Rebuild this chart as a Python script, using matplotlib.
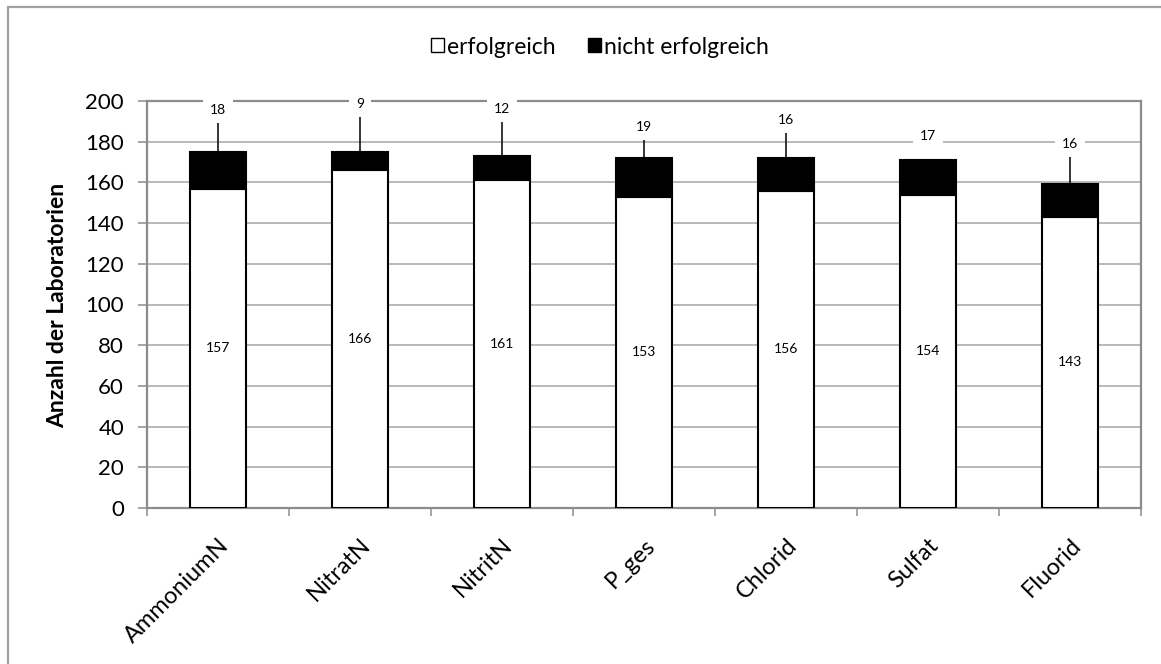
import matplotlib
matplotlib.use("Agg")
import matplotlib.pyplot as plt
from matplotlib.patches import Patch, Rectangle
import numpy as np

# ---- data ----
categories = ["AmmoniumN", "NitratN", "NitritN", "P_ges", "Chlorid", "Sulfat", "Fluorid"]
erfolgreich = [157, 166, 161, 153, 156, 154, 143]
nicht_erfolgreich = [18, 9, 12, 19, 16, 17, 16]
label_offset = [20.6, 23.5, 23.1, 15.4, 18.7, 12.0, 19.9]   # label height above stack top
yticks = [0, 20, 40, 60, 80, 100, 120, 140, 160, 180, 200]
legend_labels = ["erfolgreich", "nicht erfolgreich"]
y_label = "Anzahl der Laboratorien"

plt.rcParams['font.family'] = ['Lato', 'DejaVu Sans']

W, H = 1161, 664
fig = plt.figure(figsize=(W / 100, H / 100), dpi=100)

def fx(px):
    return px / W

def fy(py):
    return 1 - py / H

GRAY = '#8C8C8C'
GRID = '#A6A6A6'

# outer chart frame
fig.patches.append(Rectangle((fx(8), -0.1), 1.2, fy(7) + 0.1, transform=fig.transFigure,
                             fill=False, edgecolor='#A0A0A0', lw=1.6))

ax = fig.add_axes([fx(147), fy(508), fx(1141) - fx(147), fy(101) - fy(508)])
x = np.arange(len(categories))
ax.bar(x, erfolgreich, width=0.4, color='white', edgecolor='black', lw=1.5, zorder=3)
ax.bar(x, nicht_erfolgreich, bottom=erfolgreich, width=0.4, color='black',
       edgecolor='black', lw=1.5, zorder=3)
ax.set_xlim(-0.5, len(categories) - 0.5)
ax.set_ylim(0, 200)
ax.set_yticks(yticks)
ax.yaxis.grid(True, color=GRID, lw=1.1)
ax.set_axisbelow(True)
for s in ax.spines.values():
    s.set_color(GRAY)
    s.set_linewidth(1.6)

ax.tick_params(axis='y', direction='out', length=6.5, width=1.1, color=GRAY, pad=10,
               labelsize=16)
ax.set_xticks(x)
ax.set_xticklabels(categories, rotation=45, ha='right', rotation_mode='anchor', fontsize=17)
ax.tick_params(axis='x', which='major', length=0, pad=19)
ax.set_xticks(np.arange(-0.5, len(categories), 1), minor=True)
ax.tick_params(axis='x', which='minor', direction='out', length=6, width=1.1, color=GRAY)

# value labels
for i, (e, n, off) in enumerate(zip(erfolgreich, nicht_erfolgreich, label_offset)):
    ax.text(i, e / 2, str(e), ha='center', va='center', fontsize=10, zorder=5)
    top = e + n
    ly = top + off
    ax.text(i, ly, str(n), ha='center', va='center', fontsize=10, zorder=6,
            bbox=dict(boxstyle='square,pad=0.5', fc='white', ec='none'))
    line_top = ly - 6.6
    if line_top - top > 6:
        ax.plot([i, i], [top, line_top], color='black', lw=1.1, zorder=4, solid_capstyle='butt')

# y label
fig.text(fx(58), fy(305), y_label, rotation=90, ha='center', va='center',
         fontsize=16.5, fontweight='bold')

# legend
handles = [Patch(facecolor='white', edgecolor='black', lw=1.0),
           Patch(facecolor='black', edgecolor='black', lw=1.0)]
fig.legend(handles, legend_labels, loc='center', bbox_to_anchor=(fx(600), fy(47)),
           ncol=2, frameon=False, fontsize=16.5, handlelength=0.55, handleheight=0.55,
           handletextpad=0.15, columnspacing=1.4, borderaxespad=0, borderpad=0)

fig.savefig("out.png", dpi=100)
